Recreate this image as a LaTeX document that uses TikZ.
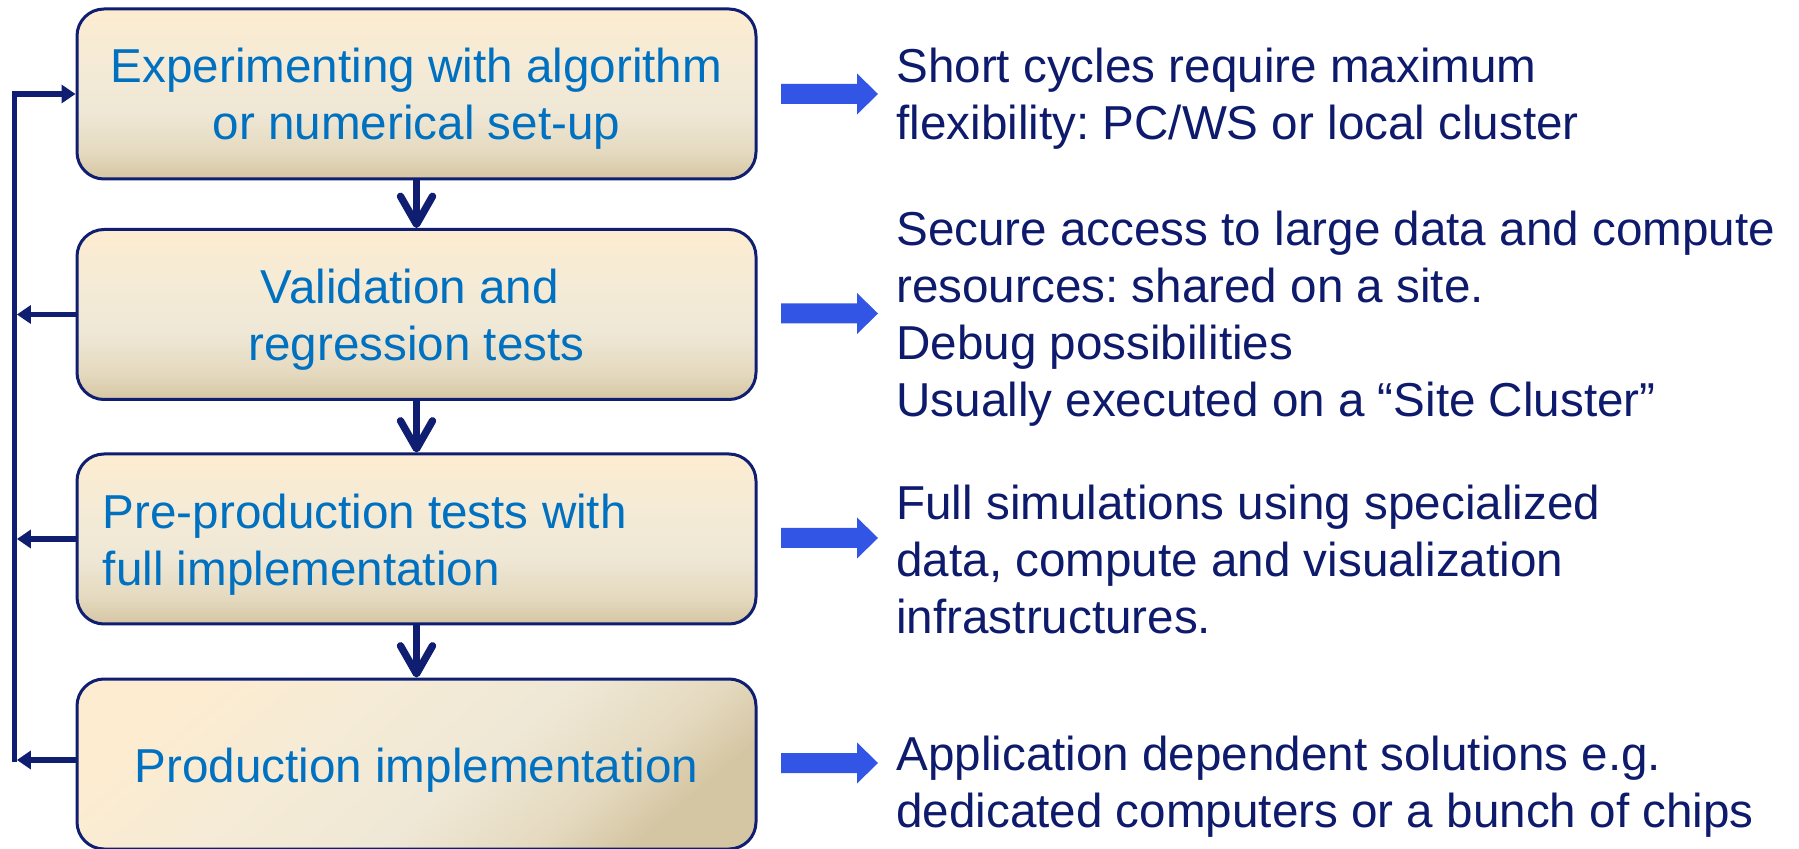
\documentclass[tikz,border=0pt]{standalone}
\usepackage{fontspec}
\setmainfont{Liberation Sans}
\frenchspacing
\usetikzlibrary{arrows.meta}
\definecolor{navy}{RGB}{16,30,114}
\definecolor{txtnavy}{RGB}{14,26,108}
\definecolor{boxblue}{RGB}{0,112,192}
\definecolor{arrowblue}{RGB}{51,85,229}
\definecolor{boxA}{RGB}{253,236,208}
\definecolor{boxB}{RGB}{245,235,214}
\definecolor{boxC}{RGB}{239,232,214}
\definecolor{boxD}{RGB}{229,218,192}
\definecolor{boxE}{RGB}{213,198,163}
\pgfdeclareverticalshading{boxshade}{100bp}{color(0bp)=(boxE); color(25bp)=(boxE); color(33bp)=(boxD); color(45bp)=(boxC); color(60bp)=(boxB); color(75bp)=(boxA); color(100bp)=(boxA)}
\begin{document}
\begin{tikzpicture}[x=0.5pt,y=-0.5pt,
  stage/.style={draw=navy, line width=1.5pt, rounded corners=13.5pt,
    minimum width=339.5pt, minimum height=85pt, inner sep=0pt, shade, shading=boxshade},
  boxtext/.style={font=\fontsize{23.8pt}{28.5pt}\selectfont, text=boxblue, inner sep=0pt},
  note/.style={font=\fontsize{23.8pt}{28.5pt}\selectfont, text=txtnavy, inner sep=0pt,
    anchor=north west, align=left},
  flow/.style={draw=navy, line width=3.7pt, -{Straight Barb[length=14pt,width=16pt,round]}},
  back/.style={draw=navy, line width=2.6pt, -{Triangle[length=7pt,width=9pt]}},
  pics/bluearrow/.style={code={\fill[arrowblue] (0,-10) -- (76,-10) -- (76,-20.5) -- (97,0)
    -- (76,20.5) -- (76,10) -- (0,10) -- cycle;}}]
\path[fill=white, use as bounding box] (0,0) rectangle (1799,849);

% stages
\node[stage] (b1) at (416.5,94) {};
\node[stage] (b2) at (416.5,314.5) {};
\node[stage] (b3) at (416.5,539) {};
\node[stage, shading angle=40] (b4) at (416.5,764) {};

% stage texts
\node[boxtext, anchor=north, align=center] (t1) at (416.5,48)
  {Experimenting with algorithm\\or numerical set-up};
\node[boxtext, anchor=north, align=center] (t2) at (416.5,269)
  {Validation and\kern0.278em\\regression tests};
\node[boxtext, anchor=north west, align=left] (t3) at (102.5,494)
  {Pre-production tests with\\full implementation};
\node[boxtext, anchor=north] (t4) at (416.5,748) {Production implementation};

% flow arrows
\draw[flow] (b1) -- (b2);
\draw[flow] (b2) -- (b3);
\draw[flow] (b3) -- (b4);

% feedback loop
\coordinate (fbtop) at (14.5,94);
\coordinate (fbbot) at (14.5,762);
\draw[back] (fbbot) |- (b1.west);
\draw[back, shorten >=1.2pt] (b2.west) -- (b2.west -| fbtop);
\draw[back, shorten >=1.2pt] (b3.west) -- (b3.west -| fbtop);
\draw[back, shorten >=1.2pt] ([yshift=2pt]b4.west) -- ([yshift=2pt]b4.west -| fbtop);

% block arrows
\pic at (781,94) {bluearrow};
\pic at (781,313.5) {bluearrow};
\pic at (781,538) {bluearrow};
\pic at (781,763) {bluearrow};

% notes
\node[note] (n1) at (896,48)
  {Short cycles require maximum\\flexibility: PC/WS or local cluster};
\node[note] (n2) at (896,211)
  {Secure access to large data and compute\\resources: shared on a site.\\Debug possibilities\\Usually executed on a “Site Cluster”};
\node[note] (n3) at (896,485)
  {Full simulations using specialized\\data, compute and visualization\\infrastructures.};
\node[note] (n4) at (896,736)
  {Application dependent solutions e.g.\\dedicated computers or a bunch of chips};
\end{tikzpicture}
\end{document}
